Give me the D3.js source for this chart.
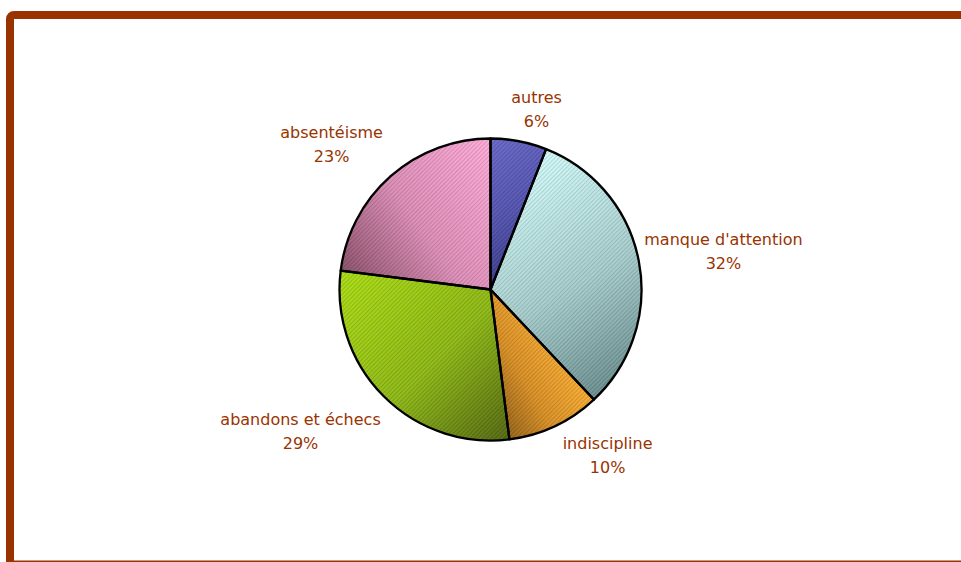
<!DOCTYPE html>
<html><head><meta charset="utf-8">
<script src="https://cdn.jsdelivr.net/npm/d3@7"></script>
<style>html,body{margin:0;padding:0;background:#fff;overflow:hidden}</style>
</head><body>
<svg id="chart" width="961" height="562"></svg>
<script>
// ---- data ----
const categories = ["autres", "manque d'attention", "indiscipline", "abandons et échecs", "absentéisme"];
const values = [6, 32, 10, 29, 23];
const percentLabels = ["6%", "32%", "10%", "29%", "23%"];

// ---- styling / layout config ----
// light, mid, dark
const gradStops = [
  ["#6666c8", "#5252b0", "#3a3a8c"],
  ["#d2fafa", "#a6cccc", "#6a8e8e"],
  ["#f8ac30", "#d88e22", "#946016"],
  ["#aadc10", "#8cb812", "#52660e"],
  ["#ffaad8", "#dc8cb6", "#8a4e68"]
];
// direction of light -> dark (degrees clockwise from up)
const gradDir = [150, 150, 240, 135, 235];
// label placement: angle shift from slice mid-angle (deg) and radius factor
const labelShift = [3.5, 1.3, -10, 8.4, -6.2];
const labelRadius = [1.234, 1.564, 1.345, 1.567, 1.425];

const svg = d3.select("#chart");
const cx = 490.5, cy = 289.5, r = 151;
const textColor = "#993300";

// frame
svg.append("rect").attr("x", 10).attr("y", 15).attr("width", 1000).attr("height", 549.5)
  .attr("rx", 4).attr("fill", "#fff").attr("stroke", "#993300").attr("stroke-width", 8);

const defs = svg.append("defs");
// hatch pattern
const pat = defs.append("pattern").attr("id", "hatch").attr("patternUnits", "userSpaceOnUse")
  .attr("width", 3).attr("height", 3).attr("patternTransform", "rotate(45)");
pat.append("rect").attr("width", 1).attr("height", 3).attr("fill", "#000").attr("opacity", 0.12);
pat.append("rect").attr("x", 1.5).attr("width", 1).attr("height", 3).attr("fill", "#fff").attr("opacity", 0.10);

const pie = d3.pie().sort(null).value(d => d);
const arcs = pie(values);
const arc = d3.arc().innerRadius(0).outerRadius(r);

// gradients in slice-local coords (origin = pie centre), spanning each slice's extent
arcs.forEach((a, i) => {
  const ang = gradDir[i] * Math.PI / 180;
  const ux = Math.sin(ang), uy = -Math.cos(ang);
  const pts = [[0, 0]];
  for (let k = 0; k <= 40; k++) {
    const t = a.startAngle + (a.endAngle - a.startAngle) * k / 40;
    pts.push([Math.sin(t) * r, -Math.cos(t) * r]);
  }
  const proj = pts.map(p => p[0] * ux + p[1] * uy);
  const lo = d3.min(proj), hi = d3.max(proj);
  const c = arc.centroid(a);
  const perp = c[0] * (-uy) + c[1] * ux;
  const bx = -uy * perp, by = ux * perp;
  const g = defs.append("linearGradient").attr("id", "g" + i).attr("gradientUnits", "userSpaceOnUse")
    .attr("x1", bx + ux * lo).attr("y1", by + uy * lo)
    .attr("x2", bx + ux * hi).attr("y2", by + uy * hi);
  g.append("stop").attr("offset", 0).attr("stop-color", gradStops[i][0]);
  g.append("stop").attr("offset", 0.55).attr("stop-color", gradStops[i][1]);
  g.append("stop").attr("offset", 1).attr("stop-color", gradStops[i][2]);
});

const gPie = svg.append("g").attr("transform", `translate(${cx},${cy})`);
gPie.selectAll("path.slice").data(arcs).enter().append("path").attr("class", "slice")
  .attr("d", arc).attr("fill", (d, i) => `url(#g${i})`);
gPie.selectAll("path.hatch").data(arcs).enter().append("path").attr("class", "hatch")
  .attr("d", arc).attr("fill", "url(#hatch)");
gPie.selectAll("path.outline").data(arcs).enter().append("path").attr("class", "outline")
  .attr("d", arc).attr("fill", "none").attr("stroke", "#000").attr("stroke-width", 2.3)
  .attr("stroke-linejoin", "round");

// labels
const lh = 24;
const lab = svg.append("g").attr("font-family", "'DejaVu Sans', Verdana, sans-serif")
  .attr("font-size", 16).attr("fill", textColor).attr("text-anchor", "middle");
arcs.forEach((a, i) => {
  const mid = (a.startAngle + a.endAngle) / 2 + labelShift[i] * Math.PI / 180;
  const rr = r * labelRadius[i];
  const x = cx + Math.sin(mid) * rr, y = cy - Math.cos(mid) * rr;
  const t = lab.append("text").attr("x", x).attr("y", y);
  t.append("tspan").attr("x", x).attr("dy", -lh / 2 + 6).text(categories[i]);
  t.append("tspan").attr("x", x).attr("dy", lh).text(percentLabels[i]);
});
</script>
</body></html>
